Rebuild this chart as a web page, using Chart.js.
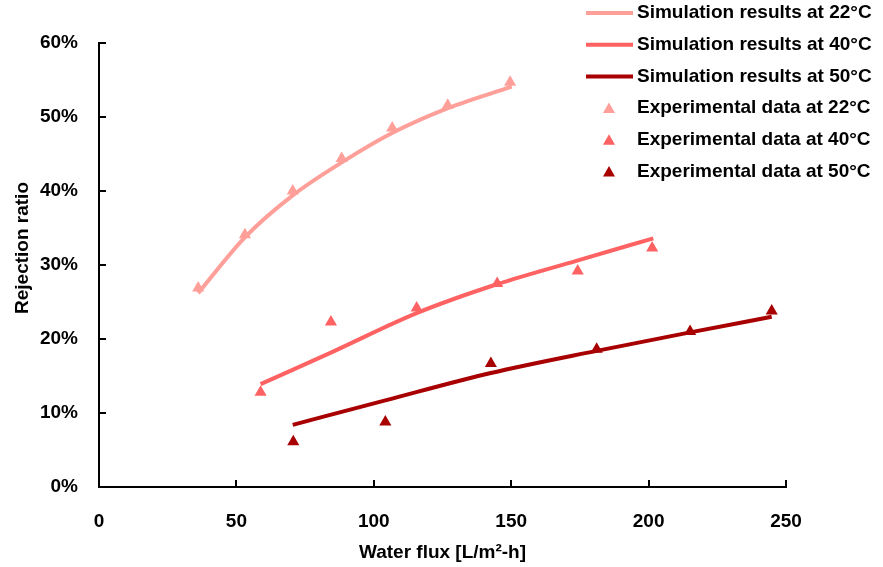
<!DOCTYPE html>
<html>
<head>
<meta charset="utf-8">
<title>Rejection ratio vs water flux</title>
<script src="https://cdn.jsdelivr.net/npm/chart.js@4/dist/chart.umd.min.js"></script>
<style>
  html, body { margin: 0; padding: 0; background: #fff; }
  #wrap { width: 883px; height: 567px; }
</style>
</head>
<body>
<div id="wrap"><canvas id="rejectionChart" width="883" height="567"></canvas></div>
<script>
// --- Data (flux in L/m2-h, rejection in %) ---
const simFlux22 = [36.1, 53, 70.5, 88.5, 107, 127, 150.2];
const simRej22  = [26.2, 33.7, 39.4, 43.9, 47.9, 51.2, 54.1];
const simFlux40 = [58.8, 84, 115.6, 144.8, 174, 201.7];
const simRej40  = [13.9, 18.1, 23.5, 27.4, 30.6, 33.6];
const simFlux50 = [70.5, 104.2, 142.6, 181.1, 215.1, 244.8];
const simRej50  = [8.4, 11.7, 15.4, 18.4, 20.9, 23.0];

const expFlux22 = [36.1, 53.1, 70.5, 88.3, 106.7, 126.9, 149.6];
const expRej22  = [26.9, 34.1, 40.0, 44.4, 48.5, 51.6, 54.7];
const expFlux40 = [58.8, 84.4, 115.6, 144.9, 174.2, 201.3];
const expRej40  = [12.8, 22.3, 24.2, 27.5, 29.2, 32.3];
const expFlux50 = [70.7, 104.2, 142.6, 181.1, 215.1, 244.8];
const expRej50  = [6.1, 8.8, 16.7, 18.6, 21.0, 23.8];

const temps = ['22', '40', '50'];
const colors = ['#ff9f99', '#ff6262', '#a80000'];
const xTicks = [0, 50, 100, 150, 200, 250];
const yTicks = [0, 10, 20, 30, 40, 50, 60];

const FONT = "'Liberation Sans', Arial, sans-serif";

function toPoints(xs, ys) {
    return xs.map((x, i) => ({ x: x, y: ys[i] }));
}

const simSets = [[simFlux22, simRej22], [simFlux40, simRej40], [simFlux50, simRej50]];
const expSets = [[expFlux22, expRej22], [expFlux40, expRej40], [expFlux50, expRej50]];

const datasets = [];
simSets.forEach((s, i) => {
    datasets.push({
        label: 'Simulation results at ' + temps[i] + '°C',
        data: toPoints(s[0], s[1]),
        showLine: true,
        borderColor: colors[i],
        backgroundColor: colors[i],
        borderWidth: 4,
        pointRadius: 0,
        cubicInterpolationMode: 'monotone',
        kind: 'line'
    });
});
expSets.forEach((s, i) => {
    datasets.push({
        label: 'Experimental data at ' + temps[i] + '°C',
        data: toPoints(s[0], s[1]),
        showLine: false,
        pointStyle: 'triangle',
        pointRadius: 7,
        borderWidth: 0,
        borderColor: colors[i],
        backgroundColor: colors[i],
        kind: 'marker'
    });
});

// --- Inward tick marks, y-axis title and legend drawn on top ---
const decorPlugin = {
    id: 'decor',
    afterDraw(chart) {
        const ctx = chart.ctx;
        const area = chart.chartArea;
        const xs = chart.scales.x, ys = chart.scales.y;
        ctx.save();
        ctx.strokeStyle = '#000';
        ctx.lineWidth = 2;
        ctx.beginPath();
        xTicks.forEach(v => {
            const px = Math.round(xs.getPixelForValue(v));
            ctx.moveTo(px, area.bottom);
            ctx.lineTo(px, area.bottom - 7);
        });
        yTicks.forEach(v => {
            const py = Math.round(ys.getPixelForValue(v));
            ctx.moveTo(area.left, py);
            ctx.lineTo(area.left + 7, py);
        });
        ctx.stroke();

        // y title, sitting a little above the middle like the original
        ctx.fillStyle = '#000';
        ctx.font = 'bold 19px ' + FONT;
        ctx.textAlign = 'center';
        ctx.textBaseline = 'middle';
        ctx.translate(23, 248);
        ctx.rotate(-Math.PI / 2);
        ctx.fillText('Rejection ratio', 0, 0);
        ctx.restore();

        // legend
        ctx.save();
        ctx.font = 'bold 19px ' + FONT;
        ctx.textAlign = 'left';
        ctx.textBaseline = 'middle';
        chart.data.datasets.forEach((ds, i) => {
            const y = 13 + i * 31.7;
            if (ds.kind === 'line') {
                ctx.strokeStyle = ds.borderColor;
                ctx.lineWidth = 4;
                ctx.beginPath();
                ctx.moveTo(586, y);
                ctx.lineTo(633, y);
                ctx.stroke();
            } else {
                ctx.fillStyle = ds.backgroundColor;
                ctx.beginPath();
                ctx.moveTo(609, y - 7 + 1.5);
                ctx.lineTo(609 + 6, y + 3.5 + 1.5);
                ctx.lineTo(609 - 6, y + 3.5 + 1.5);
                ctx.closePath();
                ctx.fill();
            }
            ctx.fillStyle = '#000';
            ctx.fillText(ds.label, 637, y);
        });
        ctx.restore();
    }
};

const tickFont = { family: FONT, size: 19, weight: 'bold' };

new Chart(document.getElementById('rejectionChart'), {
    type: 'scatter',
    data: { datasets: datasets },
    options: {
        responsive: false,
        animation: false,
        layout: { padding: { top: 43, right: 97, left: 0, bottom: 0 } },
        plugins: {
            legend: { display: false },
            tooltip: { enabled: false }
        },
        scales: {
            x: {
                type: 'linear',
                min: 0,
                max: 250,
                afterBuildTicks: s => { s.ticks = xTicks.map(v => ({ value: v })); },
                afterFit: s => { s.height = 80; },
                border: { color: '#000', width: 2 },
                grid: { drawOnChartArea: false, drawTicks: false },
                ticks: { color: '#000', font: tickFont, padding: 23, maxRotation: 0 },
                title: {
                    display: true,
                    text: 'Water flux [L/m²-h]',
                    color: '#000',
                    font: tickFont,
                    padding: { top: 0, bottom: 3 }
                }
            },
            y: {
                type: 'linear',
                min: 0,
                max: 60,
                afterBuildTicks: s => { s.ticks = yTicks.map(v => ({ value: v })); },
                afterFit: s => { s.width = 99; },
                border: { color: '#000', width: 2 },
                grid: { drawOnChartArea: false, drawTicks: false },
                ticks: { color: '#000', font: tickFont, padding: 21, callback: v => v + '%' }
            }
        }
    },
    plugins: [decorPlugin]
});
</script>
</body>
</html>
